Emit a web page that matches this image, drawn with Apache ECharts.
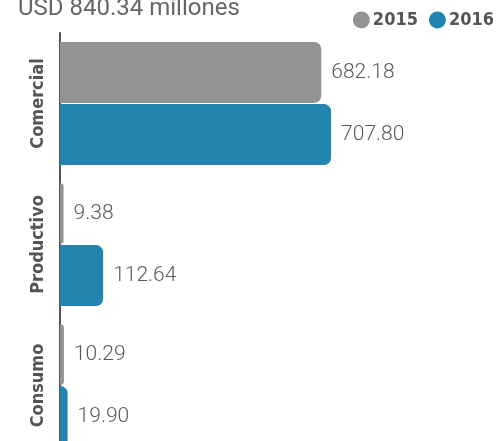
<!DOCTYPE html>
<html><head><meta charset="utf-8">
<script src="https://cdn.jsdelivr.net/npm/echarts@6/dist/echarts.min.js"></script>
<style>html,body{margin:0;padding:0;background:#fff}#c{width:500px;height:441px}</style>
</head><body><div id="c"></div>
<script>
const categories = ['Comercial', 'Productivo', 'Consumo'];
const years = ['2015', '2016'];
const values2015 = [682.18, 9.38, 10.29];
const values2016 = [707.80, 112.64, 19.90];
const titleText = 'USD 840.34 millones';

const condensed = '"DejaVu Sans Condensed", "Liberation Sans Narrow", sans-serif';
const chart = echarts.init(document.getElementById('c'));
const labelStyle = {
  show: true, position: 'right', distance: 10,
  formatter: p => p.value.toFixed(2),
  fontFamily: 'Roboto, sans-serif', fontSize: 21, fontWeight: 300, color: '#5a5a5a'
};
chart.setOption({
  animation: false,
  title: { text: titleText, left: 13, top: -8,
    textStyle: { fontFamily: 'Roboto, sans-serif', fontSize: 24, fontWeight: 400, color: '#666' } },
  legend: { right: 1, top: 6, icon: 'circle', itemWidth: 17, itemHeight: 17, itemGap: 11,
    data: years,
    textStyle: { fontFamily: condensed, fontWeight: 'bold', fontSize: 18, color: '#555', padding: [0,0,0,-2] } },
  grid: { left: 60, right: 57, top: 33, height: 423, containLabel: false, outerBoundsMode: 'none' },
  xAxis: { type: 'value', min: 0, max: 1000, show: false },
  yAxis: { type: 'category', data: categories, inverse: true, offset: 5,
    axisLine: { show: true, lineStyle: { color: '#555', width: 2 } },
    axisTick: { show: false },
    axisLabel: { rotate: 90, margin: 8, interval: 0, fontFamily: condensed, fontWeight: 'bold', fontSize: 18, color: '#555' } },
  series: [
    { name: years[0], type: 'bar', data: values2015, barWidth: 61, barGap: '2%',
      itemStyle: { color: '#939396', borderRadius: [0, 7, 7, 0] }, label: labelStyle },
    { name: years[1], type: 'bar', data: values2016, barWidth: 61,
      itemStyle: { color: '#2484b0', borderRadius: [0, 7, 7, 0] }, label: labelStyle }
  ]
});
</script></body></html>
